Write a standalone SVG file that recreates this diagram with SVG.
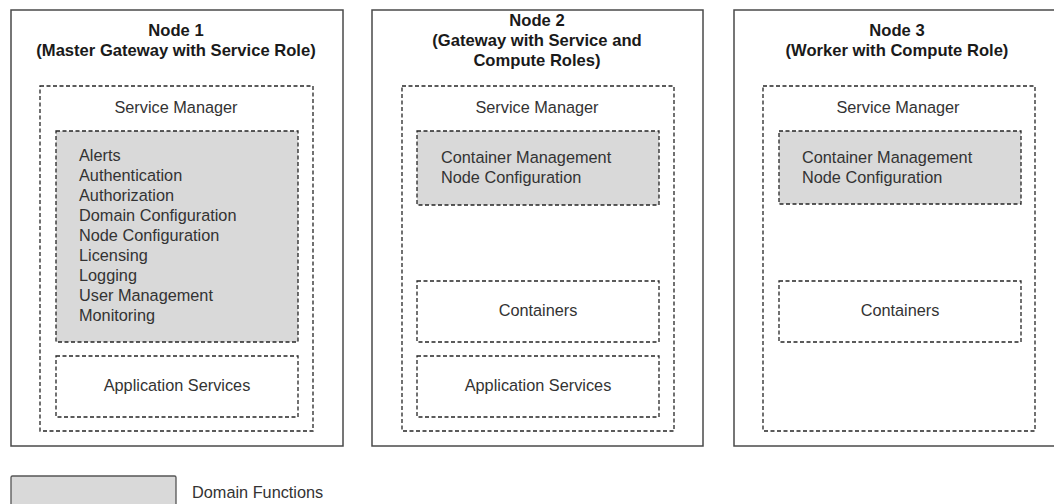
<svg xmlns="http://www.w3.org/2000/svg" width="1054" height="504" viewBox="0 0 1054 504">
<style>
.outer{fill:#fff;stroke:#4a4a4a;stroke-width:1.5}
.dash{fill:none;stroke:#262626;stroke-width:1.3;stroke-dasharray:4 2.5}
.gray{fill:#d9d9d9;stroke:#262626;stroke-width:1.3;stroke-dasharray:4 2.5}
.white{fill:#fff;stroke:#262626;stroke-width:1.3;stroke-dasharray:4 2.5}
.legend{fill:#d9d9d9;stroke:#555;stroke-width:1.3}
.t{font-family:"Liberation Sans",Arial,sans-serif;font-size:16.3px;fill:#333}
.b{font-family:"Liberation Sans",Arial,sans-serif;font-size:16.6px;font-weight:bold;fill:#1a1a1a;text-anchor:middle}
.c{text-anchor:middle}
</style>
<rect width="1054" height="504" fill="#fff"/>
<g id="node1">
<rect class="outer" x="11" y="10" width="332" height="436"/>
<text class="b" x="176" y="35.5">Node 1</text>
<text class="b" x="176" y="55.5">(Master Gateway with Service Role)</text>
<g id="node1-service-manager">
<rect class="dash" x="40" y="86" width="273" height="345"/>
<text class="t c" x="176" y="113">Service Manager</text>
</g>
<g id="node1-domain-functions">
<rect class="gray" x="56" y="131" width="242" height="211"/>
<text class="t" x="79" y="161">Alerts</text>
<text class="t" x="79" y="181">Authentication</text>
<text class="t" x="79" y="201">Authorization</text>
<text class="t" x="79" y="221">Domain Configuration</text>
<text class="t" x="79" y="241">Node Configuration</text>
<text class="t" x="79" y="261">Licensing</text>
<text class="t" x="79" y="281">Logging</text>
<text class="t" x="79" y="301">User Management</text>
<text class="t" x="79" y="321">Monitoring</text>
</g>
<g id="node1-app-services">
<rect class="white" x="56" y="356" width="242" height="61"/>
<text class="t c" x="177" y="390.5">Application Services</text>
</g>
</g>
<g id="node2">
<rect class="outer" x="372" y="10" width="331" height="436"/>
<text class="b" x="537" y="25.5">Node 2</text>
<text class="b" x="537" y="45.5">(Gateway with Service and</text>
<text class="b" x="537" y="65.5">Compute Roles)</text>
<g id="node2-service-manager">
<rect class="dash" x="402" y="86" width="272" height="345"/>
<text class="t c" x="537" y="113">Service Manager</text>
</g>
<g id="node2-domain-functions">
<rect class="gray" x="417" y="131" width="242" height="74"/>
<text class="t" x="441" y="163">Container Management</text>
<text class="t" x="441" y="183">Node Configuration</text>
</g>
<g id="node2-containers">
<rect class="white" x="417" y="281" width="242" height="61"/>
<text class="t c" x="538" y="316">Containers</text>
</g>
<g id="node2-app-services">
<rect class="white" x="417" y="356" width="242" height="61"/>
<text class="t c" x="538" y="390.5">Application Services</text>
</g>
</g>
<g id="node3">
<rect class="outer" x="734" y="10" width="332" height="436"/>
<text class="b" x="897" y="35.5">Node 3</text>
<text class="b" x="897" y="55.5">(Worker with Compute Role)</text>
<g id="node3-service-manager">
<rect class="dash" x="763" y="86" width="272" height="345"/>
<text class="t c" x="898" y="113">Service Manager</text>
</g>
<g id="node3-domain-functions">
<rect class="gray" x="779" y="131" width="242" height="73"/>
<text class="t" x="802" y="163">Container Management</text>
<text class="t" x="802" y="183">Node Configuration</text>
</g>
<g id="node3-containers">
<rect class="white" x="779" y="281" width="242" height="61"/>
<text class="t c" x="900" y="316">Containers</text>
</g>
</g>
<g id="connectors"></g>
<g id="legend">
<rect class="legend" x="11" y="476" width="165" height="40" rx="1.5"/>
<text class="t" x="192" y="498">Domain Functions</text>
</g>
</svg>
